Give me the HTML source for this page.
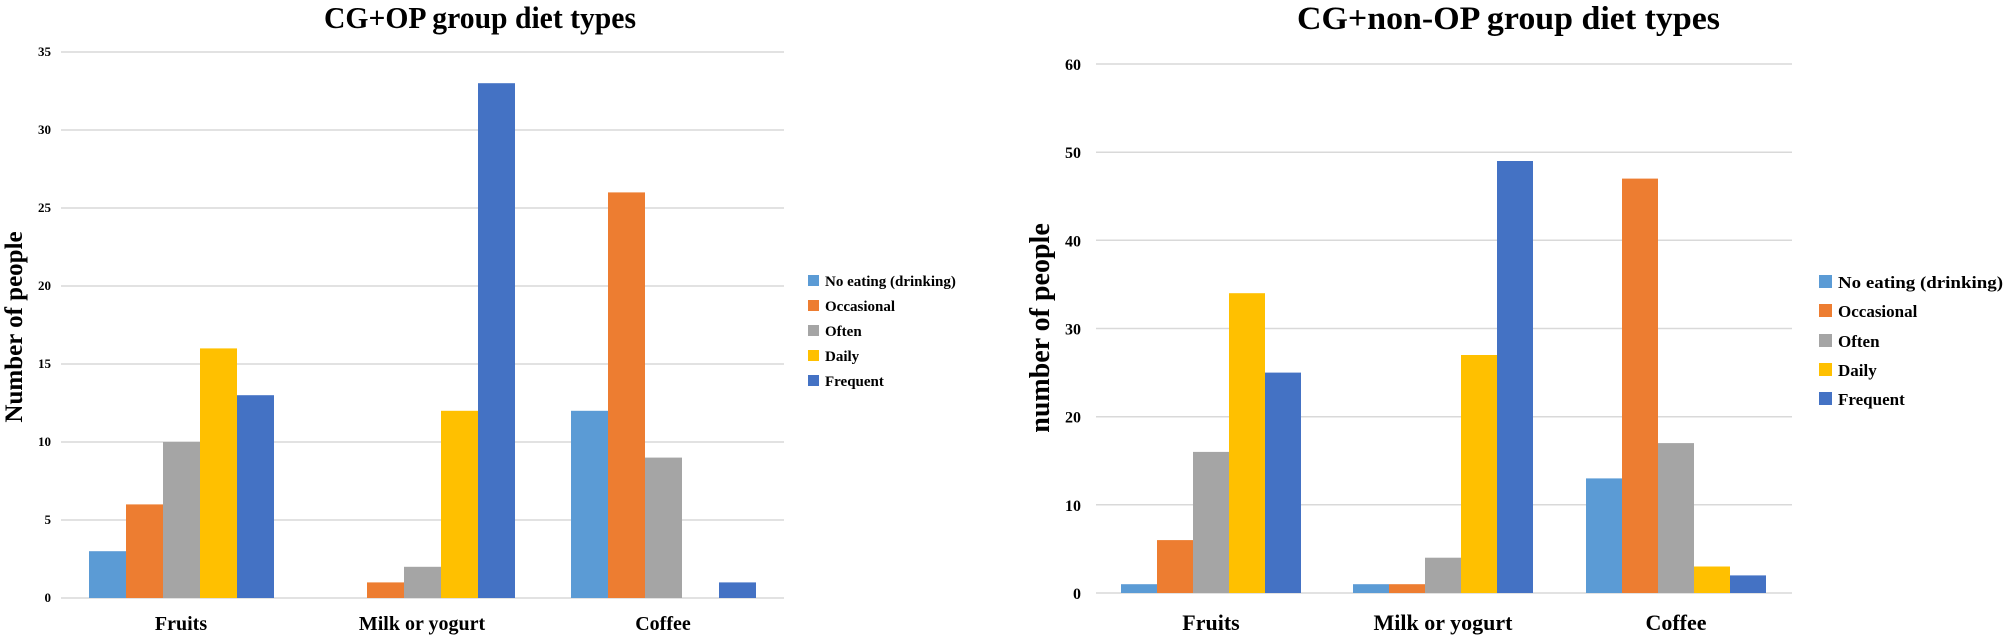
<!DOCTYPE html>
<html><head><meta charset="utf-8"><style>html,body{margin:0;padding:0;background:#fff}svg{display:block}text{font-family:"Liberation Serif",serif;font-weight:bold;fill:#000}</style></head><body>
<svg width="2007" height="637" viewBox="0 0 2007 637" xmlns="http://www.w3.org/2000/svg">
<!-- LEFT CHART -->
<text x="324" y="28" font-size="31" textLength="312" lengthAdjust="spacingAndGlyphs">CG+OP group diet types</text>
<g stroke="#d9d9d9" stroke-width="1.5">
<line x1="61" x2="784" y1="598" y2="598"/><line x1="61" x2="784" y1="520" y2="520"/><line x1="61" x2="784" y1="442" y2="442"/><line x1="61" x2="784" y1="364" y2="364"/><line x1="61" x2="784" y1="286" y2="286"/><line x1="61" x2="784" y1="208" y2="208"/><line x1="61" x2="784" y1="130" y2="130"/><line x1="61" x2="784" y1="52" y2="52"/>
</g>
<g font-size="13" text-anchor="end">
<text x="51" y="602">0</text><text x="51" y="524">5</text><text x="51" y="446">10</text><text x="51" y="368">15</text><text x="51" y="290">20</text><text x="51" y="212">25</text><text x="51" y="134">30</text><text x="51" y="56">35</text>
</g>
<text transform="translate(22,327) rotate(-90)" font-size="25" text-anchor="middle">Number of people</text>
<g>
<rect x="89" y="551.2" width="37" height="46.8" fill="#5B9BD5"/>
<rect x="126" y="504.4" width="37" height="93.6" fill="#ED7D31"/>
<rect x="163" y="442" width="37" height="156" fill="#A5A5A5"/>
<rect x="200" y="348.4" width="37" height="249.6" fill="#FFC000"/>
<rect x="237" y="395.2" width="37" height="202.8" fill="#4472C4"/>
<rect x="367" y="582.4" width="37" height="15.6" fill="#ED7D31"/>
<rect x="404" y="566.8" width="37" height="31.2" fill="#A5A5A5"/>
<rect x="441" y="410.8" width="37" height="187.2" fill="#FFC000"/>
<rect x="478" y="83.2" width="37" height="514.8" fill="#4472C4"/>
<rect x="571" y="410.8" width="37" height="187.2" fill="#5B9BD5"/>
<rect x="608" y="192.4" width="37" height="405.6" fill="#ED7D31"/>
<rect x="645" y="457.6" width="37" height="140.4" fill="#A5A5A5"/>
<rect x="719" y="582.4" width="37" height="15.6" fill="#4472C4"/>
</g>
<g font-size="20" text-anchor="middle">
<text x="181" y="630">Fruits</text><text x="422" y="630">Milk or yogurt</text><text x="663" y="630">Coffee</text>
</g>
<g font-size="15">
<rect x="808" y="275" width="11" height="11" fill="#5B9BD5"/><text x="825" y="286">No eating (drinking)</text>
<rect x="808" y="300" width="11" height="11" fill="#ED7D31"/><text x="825" y="311">Occasional</text>
<rect x="808" y="325" width="11" height="11" fill="#A5A5A5"/><text x="825" y="336">Often</text>
<rect x="808" y="350" width="11" height="11" fill="#FFC000"/><text x="825" y="361">Daily</text>
<rect x="808" y="375" width="11" height="11" fill="#4472C4"/><text x="825" y="386">Frequent</text>
</g>
<!-- RIGHT CHART -->
<text x="1297" y="29" font-size="33" textLength="423" lengthAdjust="spacingAndGlyphs">CG+non-OP group diet types</text>
<g stroke="#d9d9d9" stroke-width="1.5">
<line x1="1096" x2="1792" y1="593" y2="593"/><line x1="1096" x2="1792" y1="504.8" y2="504.8"/><line x1="1096" x2="1792" y1="416.7" y2="416.7"/><line x1="1096" x2="1792" y1="328.5" y2="328.5"/><line x1="1096" x2="1792" y1="240.3" y2="240.3"/><line x1="1096" x2="1792" y1="152.2" y2="152.2"/><line x1="1096" x2="1792" y1="64" y2="64"/>
</g>
<g font-size="16" text-anchor="end">
<text x="1081" y="599">0</text><text x="1081" y="510.8">10</text><text x="1081" y="422.7">20</text><text x="1081" y="334.5">30</text><text x="1081" y="246.3">40</text><text x="1081" y="158.2">50</text><text x="1081" y="70">60</text>
</g>
<text transform="translate(1049,328) rotate(-90)" font-size="28" text-anchor="middle">number of people</text>
<g>
<rect x="1121" y="584.2" width="36" height="8.8" fill="#5B9BD5"/>
<rect x="1157" y="540.1" width="36" height="52.9" fill="#ED7D31"/>
<rect x="1193" y="451.9" width="36" height="141.1" fill="#A5A5A5"/>
<rect x="1229" y="293.2" width="36" height="299.8" fill="#FFC000"/>
<rect x="1265" y="372.6" width="36" height="220.4" fill="#4472C4"/>
<rect x="1353" y="584.2" width="36" height="8.8" fill="#5B9BD5"/>
<rect x="1389" y="584.2" width="36" height="8.8" fill="#ED7D31"/>
<rect x="1425" y="557.7" width="36" height="35.3" fill="#A5A5A5"/>
<rect x="1461" y="355" width="36" height="238" fill="#FFC000"/>
<rect x="1497" y="161" width="36" height="432" fill="#4472C4"/>
<rect x="1586" y="478.4" width="36" height="114.6" fill="#5B9BD5"/>
<rect x="1622" y="178.6" width="36" height="414.4" fill="#ED7D31"/>
<rect x="1658" y="443.1" width="36" height="149.9" fill="#A5A5A5"/>
<rect x="1694" y="566.5" width="36" height="26.5" fill="#FFC000"/>
<rect x="1730" y="575.4" width="36" height="17.6" fill="#4472C4"/>
</g>
<g font-size="22" text-anchor="middle">
<text x="1211" y="630">Fruits</text><text x="1443" y="630">Milk or yogurt</text><text x="1676" y="630">Coffee</text>
</g>
<g font-size="17">
<rect x="1819" y="275" width="13" height="13" fill="#5B9BD5"/><text x="1838" y="288" textLength="165" lengthAdjust="spacingAndGlyphs">No eating (drinking)</text>
<rect x="1819" y="304" width="13" height="13" fill="#ED7D31"/><text x="1838" y="317">Occasional</text>
<rect x="1819" y="334" width="13" height="13" fill="#A5A5A5"/><text x="1838" y="347">Often</text>
<rect x="1819" y="363" width="13" height="13" fill="#FFC000"/><text x="1838" y="376">Daily</text>
<rect x="1819" y="392" width="13" height="13" fill="#4472C4"/><text x="1838" y="405">Frequent</text>
</g>
</svg>
</body></html>
